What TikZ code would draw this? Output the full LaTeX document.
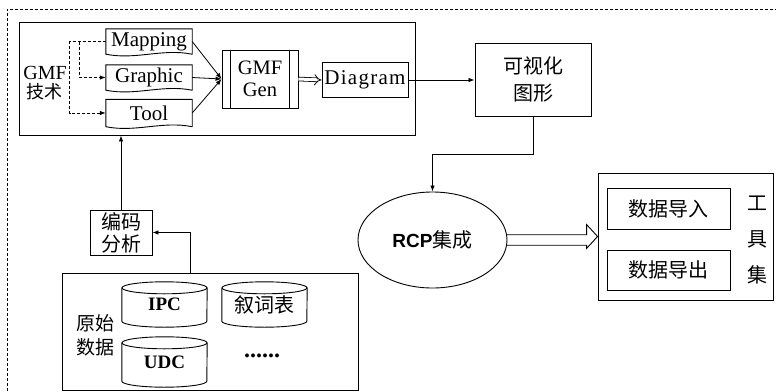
\documentclass[tikz,border=0pt]{standalone}
\usepackage{fontspec}
\setmainfont{Liberation Serif}
\newfontfamily\cjk{Noto Sans CJK SC}
\newfontfamily\lsans{Liberation Sans}
\usetikzlibrary{arrows.meta,shapes.geometric,calc}
\newcommand\docshape[1]{%
  \draw[line width=0.9pt] (#1.north west) -- (#1.north east) -- (#1.south east)
    .. controls ($(#1.south east)+(-30,-6)$) and ($(#1.south west)+(30,6)$) .. (#1.south west) -- cycle;}
\newcommand\cylshape[2]{%
  \draw[line width=0.9pt] ($(#1.north west)+(0,6)$) -- ($(#1.south west)+(0,-6)$)
    arc[start angle=180,end angle=0,x radius=#2,y radius=6] -- ($(#1.north east)+(0,6)$);
  \draw[line width=0.9pt] ($(#1.north)+(0,6)$) ellipse[x radius=#2,y radius=6];}
\begin{document}
\begin{tikzpicture}[x=1pt,y=-1pt,
  box/.style={draw, line width=0.9pt, inner sep=0pt, align=center},
  plain/.style={inner sep=0pt, align=center},
  arr/.style={-{Latex[length=6pt,width=4.5pt]}, line width=0.8pt},
  darr/.style={dashed, dash pattern=on 3pt off 2pt, -{Latex[length=6pt,width=4.5pt]}, line width=0.8pt},
  lat/.style={font=\fontsize{21}{24}\selectfont},
  zh/.style={font=\cjk\fontsize{20}{24}\selectfont}]
\useasboundingbox (0,0) rectangle (776,391);
% outer dashed frame
\draw[dashed, dash pattern=on 3pt off 2pt, line width=0.7pt] (7,391) -- (7,9) -- (776,9);
% GMF area
\node[box, minimum width=396, minimum height=113] (gmf) at (217,78.5) {};
\node[plain, font=\fontsize{20}{19}\selectfont] (gmflab) at (45,83) {GMF\\{\cjk\fontsize{18}{19}\selectfont 技术}};
\node[plain, lat, minimum width=86, minimum height=25] (map) at (149,41.5) {Mapping};
\node[plain, lat, minimum width=86, minimum height=25] (gra) at (149,77.5) {Graphic};
\node[plain, lat, minimum width=86, minimum height=27] (tool) at (149,113) {Tool};
\docshape{map}
\docshape{gra}
\docshape{tool}
\draw[darr] (map.west) -- ++(-36,0) |- (tool.west);
\draw[darr] ($(map.west)+(-26,0)$) |- (gra.west);
\node[box, minimum width=76, minimum height=58, font=\fontsize{20.5}{22}\selectfont] (gen) at (260,79) {GMF\\Gen};
\draw[line width=0.9pt] ($(gen.north west)+(9,0)$) -- ($(gen.south west)+(9,0)$);
\draw[line width=0.9pt] ($(gen.north east)+(-9,0)$) -- ($(gen.south east)+(-9,0)$);
\draw[arr] (map.east) -- (gen.west);
\draw[arr] (gra.east) -- (gen.west);
\draw[arr] (tool.east) -- (gen.west);
\node[box, lat, minimum width=86, minimum height=35] (diag) at (365,80) {\addfontfeature{LetterSpace=6}Diagram};
\draw[double, double distance=3pt, line width=0.8pt, -{Implies[length=5pt]}] (gen.east) -- (diag.west);
% visualization
\node[box, minimum width=116, minimum height=73, font=\cjk\fontsize{20}{27}\selectfont] (viz) at (533,79.5) {可视化\\图形};
\draw[arr] (diag.east) -- (diag.east -| viz.west);
% RCP
\node[draw, ellipse, line width=0.9pt, inner sep=0pt, minimum width=149, minimum height=96] (rcp) at (432.5,240)
  {{\lsans\bfseries\fontsize{19}{22}\selectfont RCP}{\cjk\fontsize{20}{22}\selectfont 集成}};
\draw[arr] (viz.south) -- ++(0,38) -| (rcp.north);
% tool set
\node[box, minimum width=175, minimum height=127] (tools) at (685.5,236.5) {};
\node[box, zh, minimum width=123, minimum height=41] (imp) at (668.5,208.5) {数据导入};
\node[box, zh, minimum width=123, minimum height=40] (exp) at (668.5,270) {数据导出};
\node[plain, font=\cjk\fontsize{20}{36}\selectfont] (tslab) at (757,240) {工\\具\\集};
\coordinate (hb) at ($(tools.west)+(-11,0)$);
\draw[line width=0.9pt] (rcp.4.6) -- (rcp.4.6 -| hb) -- ($(hb)+(0,-12)$) -- (tools.west)
  -- ($(hb)+(0,12)$) -- (rcp.-4.6 -| hb) -- (rcp.-4.6);
% coding analysis
\node[box, minimum width=62, minimum height=45, font=\cjk\fontsize{20}{22}\selectfont] (code) at (121,232.5) {编码\\分析};
\draw[arr] (code.north) -- (code.north |- gmf.south);
% raw data
\node[box, minimum width=296, minimum height=117] (raw) at (210,331.5) {};
\node[plain, font=\cjk\fontsize{19}{24}\selectfont] (rawlab) at (95,335) {原始\\数据};
\node[plain, font=\bfseries\fontsize{19}{22}\selectfont, minimum width=85, minimum height=45] (ipc) at (164.5,304.5) {IPC};
\node[plain, zh, minimum width=85, minimum height=45] (thes) at (264.5,304.5) {叙词表};
\node[plain, font=\bfseries\fontsize{19}{22}\selectfont, minimum width=85, minimum height=50] (udc) at (164.5,362) {UDC};
\cylshape{ipc}{42.5}
\cylshape{thes}{42.5}
\cylshape{udc}{42.5}
\node[plain, font=\bfseries\fontsize{24}{24}\selectfont] (dots) at (262,356) {......};
\draw[arr] ($(raw.north west)+(129,0)$) |- (code.east);
\end{tikzpicture}
\end{document}
